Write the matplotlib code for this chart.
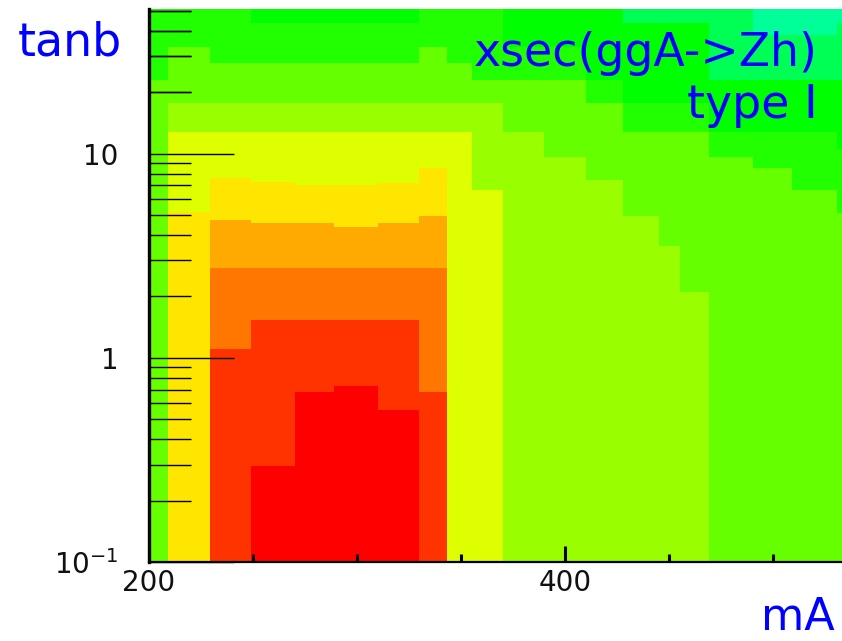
import numpy as np
import matplotlib
matplotlib.use("Agg")
import matplotlib.pyplot as plt
from matplotlib.colors import ListedColormap, BoundaryNorm
from matplotlib.ticker import FixedLocator, NullFormatter

# ---- data ----
# mA bin edges (GeV)
mA_edges = [200, 209, 229.5, 249, 270, 289, 310, 329.5, 343, 355, 370,
            390, 410, 428, 445, 455, 469, 490, 509, 530.5, 533]
tanb_min, tanb_max = 0.1, 51.2

# colour level of xsec (0 = lowest ... 11 = highest), per mA column, bottom -> top
col_levels = [
    [4, 3],
    [7, 6, 5, 4, 3],
    [10, 9, 8, 7, 6, 5, 4, 3],
    [11, 10, 9, 8, 7, 6, 5, 4, 3, 2],
    [11, 10, 9, 8, 7, 6, 5, 4, 3, 2],
    [11, 10, 9, 8, 7, 6, 5, 4, 3, 2],
    [11, 10, 9, 8, 7, 6, 5, 4, 3, 2],
    [10, 9, 8, 7, 6, 5, 4, 3],
    [6, 5, 4, 3],
    [6, 5, 4, 3],
    [5, 4, 3, 2],
    [5, 4, 3, 2],
    [5, 4, 3, 2],
    [5, 4, 3, 2, 1],
    [5, 4, 3, 2, 1],
    [5, 4, 3, 2, 1],
    [4, 3, 2, 1],
    [4, 3, 2, 1, 0],
    [4, 3, 2, 1, 0],
    [4, 3, 2, 1, 0],
]
# tanb values where the level changes in each column
col_bounds = [
    [23.0],
    [5.18, 12.8, 17.8, 33.4],
    [1.11, 2.77, 4.76, 7.63, 12.8, 17.8, 27.9],
    [0.295, 1.53, 2.77, 4.60, 7.30, 12.8, 17.8, 27.9, 43.7],
    [0.678, 1.53, 2.77, 4.60, 7.05, 12.8, 17.8, 27.9, 43.7],
    [0.726, 1.53, 2.77, 4.40, 7.05, 12.8, 17.8, 27.9, 43.7],
    [0.554, 1.53, 2.77, 4.60, 7.22, 12.8, 17.8, 27.9, 43.7],
    [0.678, 2.77, 4.98, 8.54, 12.8, 17.8, 33.4],
    [12.8, 17.8, 27.9],
    [6.67, 17.8, 23.0],
    [12.8, 23.0, 33.4],
    [9.67, 23.0, 33.4],
    [7.46, 17.8, 23.0],
    [4.98, 12.8, 17.8, 43.7],
    [3.55, 12.8, 17.8, 43.7],
    [2.11, 12.8, 17.8, 43.7],
    [9.67, 12.8, 23.0],
    [8.54, 12.8, 23.0, 38.2],
    [6.67, 12.8, 23.0, 38.2],
    [5.15, 10.5, 23.0, 43.7],
]
level_colors = ['#00ff99', '#00ff55', '#00ff00', '#22ff00', '#66ff00', '#99ff00',
                '#ddff00', '#ffe600', '#ffaa00', '#ff7700', '#ff3300', '#ff0000']

y_major = [0.1, 1, 10]
y_major_labels = ['10$^{-1}$', '1', '10']
x_major = [200, 400]
x_minor = [250, 300, 350, 450, 500]

# ---- build grid ----
y_edges = sorted(set([tanb_min, tanb_max] + [b for bl in col_bounds for b in bl]))
y_edges = np.array(y_edges)
y_cent = np.sqrt(y_edges[:-1] * y_edges[1:])
Z = np.zeros((len(y_cent), len(mA_edges) - 1))
for j, (lv, bd) in enumerate(zip(col_levels, col_bounds)):
    idx = np.searchsorted(np.array(bd), y_cent)
    Z[:, j] = np.array(lv)[idx]

cmap = ListedColormap(level_colors)
norm = BoundaryNorm(np.arange(-0.5, len(level_colors) + 0.5, 1), cmap.N)

fig = plt.figure(figsize=(8.42, 6.41), dpi=100)
ax = fig.add_axes([149 / 842, 1 - 562 / 641, 1 - 149 / 842, (562 - 9) / 641])
ax.pcolormesh(mA_edges, y_edges, Z, cmap=cmap, norm=norm, shading='flat')
ax.set_yscale('log')
ax.set_xlim(200, 533)
ax.set_ylim(tanb_min, tanb_max)

for s in ['top', 'right']:
    ax.spines[s].set_visible(False)
ax.spines['left'].set_linewidth(2.4)
ax.spines['bottom'].set_linewidth(1.6)

ax.yaxis.set_major_locator(FixedLocator(y_major))
ax.set_yticklabels(y_major_labels)
y_minor = [m * d for d in [0.1, 1, 10] for m in range(2, 10)] + [20, 30, 40, 50]
ax.yaxis.set_minor_locator(FixedLocator(y_minor))
ax.yaxis.set_minor_formatter(NullFormatter())
ax.xaxis.set_major_locator(FixedLocator(x_major))
ax.xaxis.set_minor_locator(FixedLocator(x_minor))
ax.xaxis.set_minor_formatter(NullFormatter())

ax.tick_params(axis='y', which='major', direction='in', length=61, width=1.0,
               pad=22, labelsize=20, labelcolor='#111111')
ax.tick_params(axis='y', which='minor', direction='in', length=30, width=1.0)
ax.tick_params(axis='x', which='major', direction='in', length=11.5, width=2.2,
               pad=5, labelsize=20, labelcolor='#111111')
ax.tick_params(axis='x', which='minor', direction='in', length=6, width=2.2)

fig.text(18 / 842, 1 - 56 / 641, 'tanb', color='#0000ff', fontsize=33,
         ha='left', va='baseline')
fig.text(818 / 842, 1 - 66 / 641, 'xsec(ggA->Zh)', color='#0000ff', fontsize=33,
         ha='right', va='baseline')
fig.text(818 / 842, 1 - 118 / 641, 'type I', color='#0000ff', fontsize=33,
         ha='right', va='baseline')
fig.text(835 / 842, 2 / 641, 'mA', color='#0000ff', fontsize=32,
         ha='right', va='bottom')

fig.savefig('out.png', dpi=100)
